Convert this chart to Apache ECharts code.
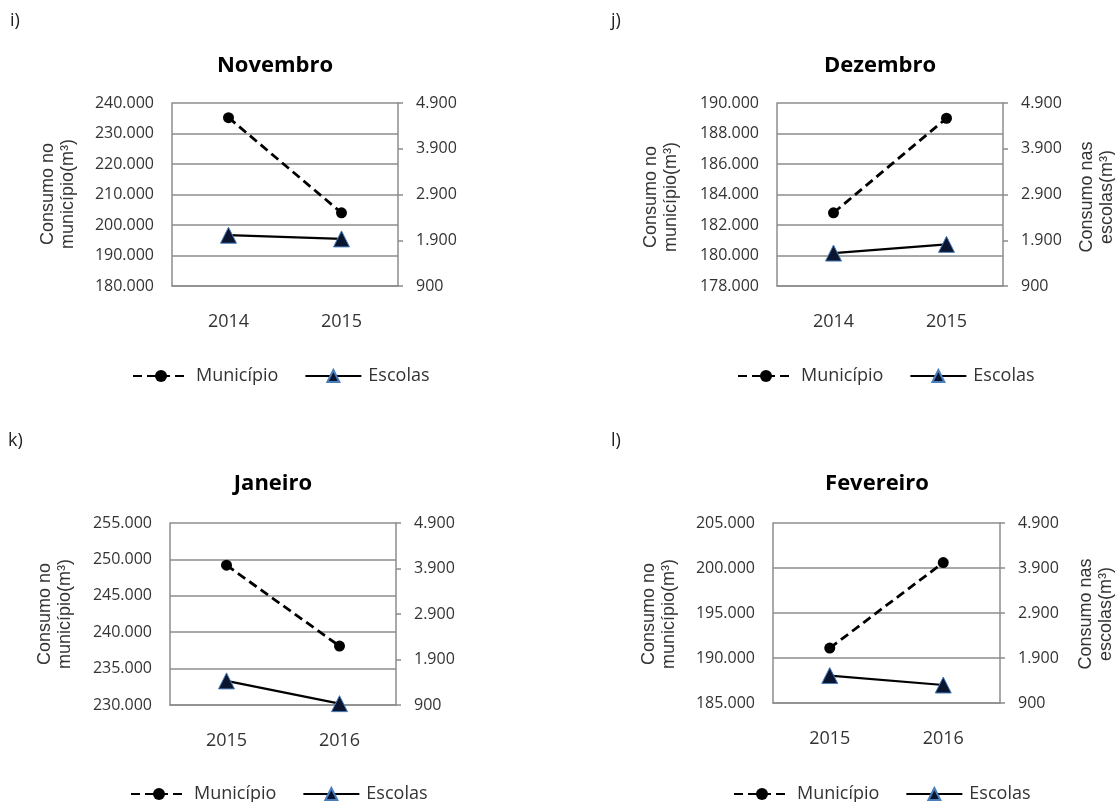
<!DOCTYPE html>
<html>
<head>
<meta charset="utf-8">
<script src="https://cdn.jsdelivr.net/npm/echarts@6/dist/echarts.min.js"></script>
<style>html,body{margin:0;padding:0;background:#fff;}#c{width:1115px;height:802px;}</style>
</head>
<body>
<div id="c"></div>
<script>
// ---- data ----
const months = ['Novembro', 'Dezembro', 'Janeiro', 'Fevereiro'];
const panelLetters = ['i)', 'j)', 'k)', 'l)'];
const yearsNov = ['2014', '2015'];
const yearsDez = ['2014', '2015'];
const yearsJan = ['2015', '2016'];
const yearsFev = ['2015', '2016'];
const municipioNov = [235200, 204000];
const municipioDez = [182800, 189000];
const municipioJan = [249200, 238100];
const municipioFev = [191100, 200600];
const escolasNov = [2010, 1930];
const escolasDez = [1620, 1810];
const escolasJan = [1430, 930];
const escolasFev = [1510, 1300];
const leftMin = [180000, 178000, 230000, 185000];
const leftMax = [240000, 190000, 255000, 205000];
const leftStep = [10000, 2000, 5000, 5000];
const rightTicks = [900, 1900, 2900, 3900, 4900];
const seriesNames = ['Município', 'Escolas'];
const leftAxisName = 'Consumo no\nmunicípio(m³)';
const rightAxisName = 'Consumo nas\nescolas(m³)';

const years = [yearsNov, yearsDez, yearsJan, yearsFev];
const municipio = [municipioNov, municipioDez, municipioJan, municipioFev];
const escolas = [escolasNov, escolasDez, escolasJan, escolasFev];

// ---- layout ----
const grids = [
  {left: 172, top: 103, width: 226, height: 183},
  {left: 777, top: 103, width: 226, height: 183},
  {left: 170, top: 523, width: 226, height: 182},
  {left: 773, top: 523, width: 227, height: 180}
];
const titlePos = [[275, 55], [880, 55], [273, 473], [877, 473]];
const letterPos = [[10, 12], [611, 12], [8, 432], [611, 432]];
const legendPos = [[132, 367], [737, 367], [130, 785], [733, 785]];
const leftNamePos = [[58, 194], [661, 197], [55, 614], [659, 614]];
const rightNamePos = [null, [1097, 197], null, [1096, 614]];

const fmt = v => String(v).replace(/\B(?=(\d{3})+(?!\d))/g, '.');
const gridColor = '#8c8c8c';
const labelColor = '#333333';
const FONT = 'Open Sans';

const option = {
  animation: false,
  backgroundColor: '#fff',
  textStyle: {fontFamily: FONT},
  title: [], legend: [], grid: [], xAxis: [], yAxis: [], series: [], graphic: []
};

function axisNameText(text, pos) {
  return {
    type: 'text', x: pos[0], y: pos[1], rotation: Math.PI / 2, silent: true,
    style: {
      text: text, font: '18px "Liberation Sans"', fontSize: 18, fontFamily: 'Liberation Sans',
      lineHeight: 20, fill: labelColor, align: 'center', verticalAlign: 'middle'
    }
  };
}

for (let i = 0; i < 4; i++) {
  option.grid.push(Object.assign({containLabel: false}, grids[i]));
  option.title.push({
    text: months[i], left: titlePos[i][0], top: titlePos[i][1], textAlign: 'center', padding: 0,
    textStyle: {fontFamily: FONT, fontSize: 22, fontWeight: 'bold', color: '#000'}
  });
  option.title.push({
    text: panelLetters[i], left: letterPos[i][0], top: letterPos[i][1], padding: 0,
    textStyle: {fontFamily: FONT, fontSize: 18, fontWeight: 'normal', color: '#222'}
  });
  option.legend.push({
    data: seriesNames, left: legendPos[i][0], top: legendPos[i][1], padding: 0,
    itemWidth: 56, itemHeight: 15, itemGap: 26, selectedMode: false,
    textStyle: {fontFamily: FONT, fontSize: 18, color: labelColor, padding: [0, 0, 0, 2]}
  });
  option.xAxis.push({
    type: 'category', gridIndex: i, data: years[i], boundaryGap: true,
    axisLine: {show: true, lineStyle: {color: gridColor, width: 1.5}},
    axisTick: {show: false},
    axisLabel: {fontFamily: FONT, fontSize: 18, color: labelColor, margin: 27}
  });
  option.yAxis.push({
    type: 'value', gridIndex: i, position: 'left',
    min: leftMin[i], max: leftMax[i], interval: leftStep[i],
    axisLine: {show: true, lineStyle: {color: gridColor, width: 1.5}},
    axisTick: {show: false},
    axisLabel: {fontFamily: FONT, fontSize: 16, color: labelColor, margin: 18, formatter: fmt},
    splitLine: {show: true, lineStyle: {color: gridColor, width: 1.5}}
  });
  option.yAxis.push({
    type: 'value', gridIndex: i, position: 'right',
    min: rightTicks[0], max: rightTicks[rightTicks.length - 1],
    axisLine: {show: true, lineStyle: {color: gridColor, width: 1.5}},
    axisTick: {show: true, inside: false, length: 5, customValues: rightTicks, lineStyle: {color: gridColor, width: 1.5}},
    axisLabel: {fontFamily: FONT, fontSize: 16, color: labelColor, margin: 18, customValues: rightTicks, formatter: fmt},
    splitLine: {show: false}
  });
  option.series.push({
    name: seriesNames[0], type: 'line', xAxisIndex: i, yAxisIndex: 2 * i,
    data: municipio[i], symbol: 'circle', symbolSize: 11,
    lineStyle: {color: '#000', width: 2.8, type: [9, 5]},
    itemStyle: {color: '#000'}, z: 3
  });
  option.series.push({
    name: seriesNames[1], type: 'line', xAxisIndex: i, yAxisIndex: 2 * i + 1,
    data: escolas[i], symbol: 'triangle', symbolSize: 16,
    lineStyle: {color: '#000', width: 2.2},
    itemStyle: {color: '#0b1530', borderColor: '#4a7ebb', borderWidth: 1}, z: 4
  });
  option.graphic.push(axisNameText(leftAxisName, leftNamePos[i]));
  if (rightNamePos[i]) option.graphic.push(axisNameText(rightAxisName, rightNamePos[i]));
}

const chart = echarts.init(document.getElementById('c'), null, {renderer: 'canvas'});
chart.setOption(option);
</script>
</body>
</html>
